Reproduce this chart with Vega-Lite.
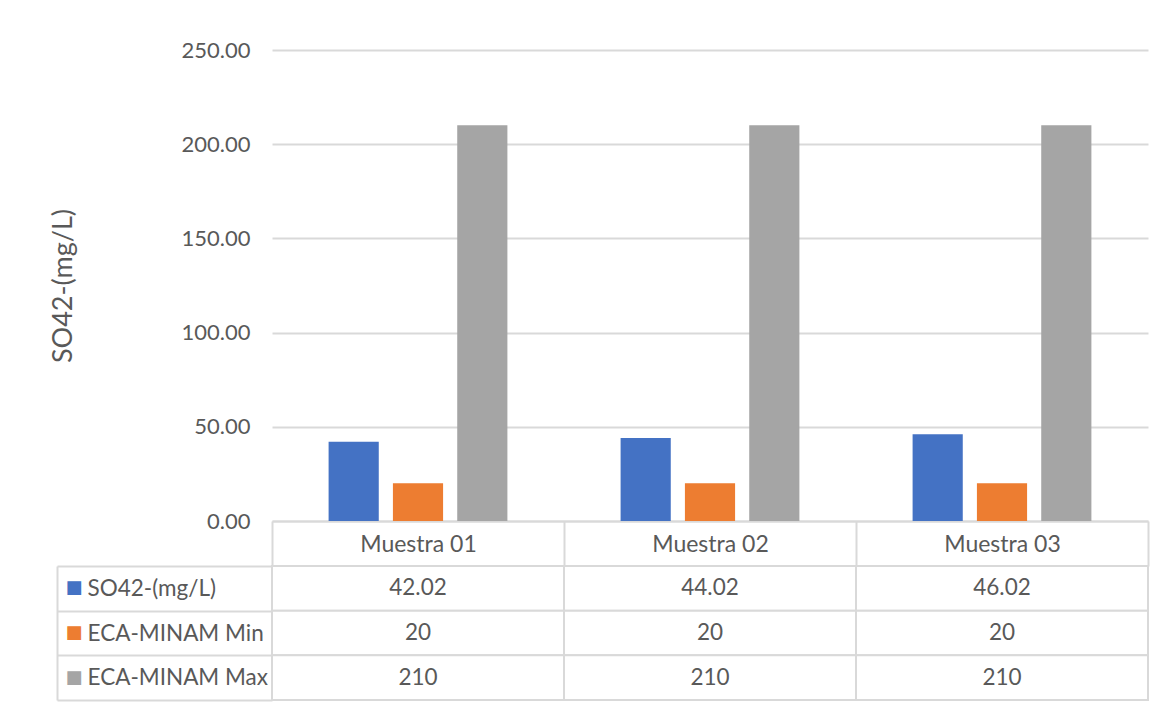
{
  "$schema": "https://vega.github.io/schema/vega-lite/v6.json",
  "padding": {"top": 39, "left": 49, "right": 15, "bottom": 5},
  "background": "white",
  "spacing": 45,
  "bounds": "flush",
  "config": {
    "font": "Lato",
    "view": {"stroke": null},
    "axis": {
      "labelFont": "Lato",
      "labelFontSize": 22,
      "labelColor": "#595959",
      "labelLimit": 400,
      "titleFont": "Lato",
      "titleFontSize": 27,
      "titleColor": "#595959",
      "titleFontWeight": "normal"
    }
  },
  "datasets": {
    "cells": [
      {"sample": "Muestra 01", "series": "SO42-(mg/L)", "value": 42.02},
      {"sample": "Muestra 02", "series": "SO42-(mg/L)", "value": 44.02},
      {"sample": "Muestra 03", "series": "SO42-(mg/L)", "value": 46.02},
      {"sample": "Muestra 01", "series": "ECA-MINAM Min", "value": 20},
      {"sample": "Muestra 02", "series": "ECA-MINAM Min", "value": 20},
      {"sample": "Muestra 03", "series": "ECA-MINAM Min", "value": 20},
      {"sample": "Muestra 01", "series": "ECA-MINAM Max", "value": 210},
      {"sample": "Muestra 02", "series": "ECA-MINAM Max", "value": 210},
      {"sample": "Muestra 03", "series": "ECA-MINAM Max", "value": 210}
    ]
  },
  "vconcat": [
    {
      "width": 876,
      "height": 471,
      "data": {"name": "cells"},
      "mark": {"type": "bar"},
      "encoding": {
        "x": {
          "field": "sample",
          "type": "nominal",
          "scale": {"paddingInner": 0, "paddingOuter": 0},
          "axis": {
            "title": null,
            "labelAngle": 0,
            "labelFontSize": 23,
            "tickBand": "extent",
            "tickSize": 45,
            "tickColor": "#d9d9d9",
            "tickWidth": 2,
            "domainColor": "#d9d9d9",
            "domainWidth": 2,
            "labelBaseline": "middle",
            "labelPadding": -22
          }
        },
        "xOffset": {
          "field": "series",
          "type": "nominal",
          "sort": ["SO42-(mg/L)", "ECA-MINAM Min", "ECA-MINAM Max"],
          "scale": {"paddingInner": 0.22, "paddingOuter": 0.88}
        },
        "y": {
          "field": "value",
          "type": "quantitative",
          "scale": {"domain": [0, 250], "nice": false},
          "axis": {
            "values": [0, 50, 100, 150, 200, 250],
            "format": ".2f",
            "domain": false,
            "ticks": false,
            "labelPadding": 22,
            "gridColor": "#d9d9d9",
            "gridWidth": 2,
            "title": "SO42-(mg/L)",
            "titlePadding": 104
          }
        },
        "color": {
          "field": "series",
          "type": "nominal",
          "sort": ["SO42-(mg/L)", "ECA-MINAM Min", "ECA-MINAM Max"],
          "scale": {"range": ["#4472C4", "#ED7D31", "#A5A5A5"]},
          "legend": null
        }
      }
    },
    {
      "width": 876,
      "height": 134,
      "data": {"name": "cells"},
      "layer": [
        {
          "mark": {"type": "rect", "fill": "white", "stroke": "#d9d9d9", "strokeWidth": 2},
          "encoding": {
            "x": {
              "field": "sample",
              "type": "nominal",
              "scale": {"paddingInner": 0, "paddingOuter": 0},
              "axis": null
            },
            "y": {
              "field": "series",
              "type": "nominal",
              "sort": ["SO42-(mg/L)", "ECA-MINAM Min", "ECA-MINAM Max"],
              "scale": {"paddingInner": 0, "paddingOuter": 0},
              "axis": {
                "orient": "left",
                "offset": 215,
                "title": null,
                "tickBand": "extent",
                "tickSize": -215,
                "tickColor": "#d9d9d9",
                "tickWidth": 2,
                "domainColor": "#d9d9d9",
                "domainWidth": 2,
                "labelAlign": "left",
                "labelBaseline": "middle",
                "labelFontSize": 22.5,
                "labelPadding": 185
              }
            }
          }
        },
        {
          "mark": {"type": "text", "font": "Lato", "fontSize": 22.5, "color": "#595959"},
          "encoding": {
            "x": {"field": "sample", "type": "nominal", "axis": null},
            "y": {
              "field": "series",
              "type": "nominal",
              "sort": ["SO42-(mg/L)", "ECA-MINAM Min", "ECA-MINAM Max"],
              "axis": {
                "orient": "left",
                "offset": 215,
                "title": null,
                "domain": false,
                "ticks": false,
                "labelExpr": "'■'",
                "labelFont": "DejaVu Sans",
                "labelFontSize": 18,
                "labelAlign": "left",
                "labelBaseline": "middle",
                "labelPadding": -8,
                "labelColor": {"expr": "datum.value === 'SO42-(mg/L)' ? '#4472C4' : datum.value === 'ECA-MINAM Min' ? '#ED7D31' : '#A5A5A5'"}
              }
            },
            "text": {"field": "value", "type": "nominal"}
          }
        }
      ],
      "resolve": {"axis": {"y": "independent"}}
    }
  ]
}
